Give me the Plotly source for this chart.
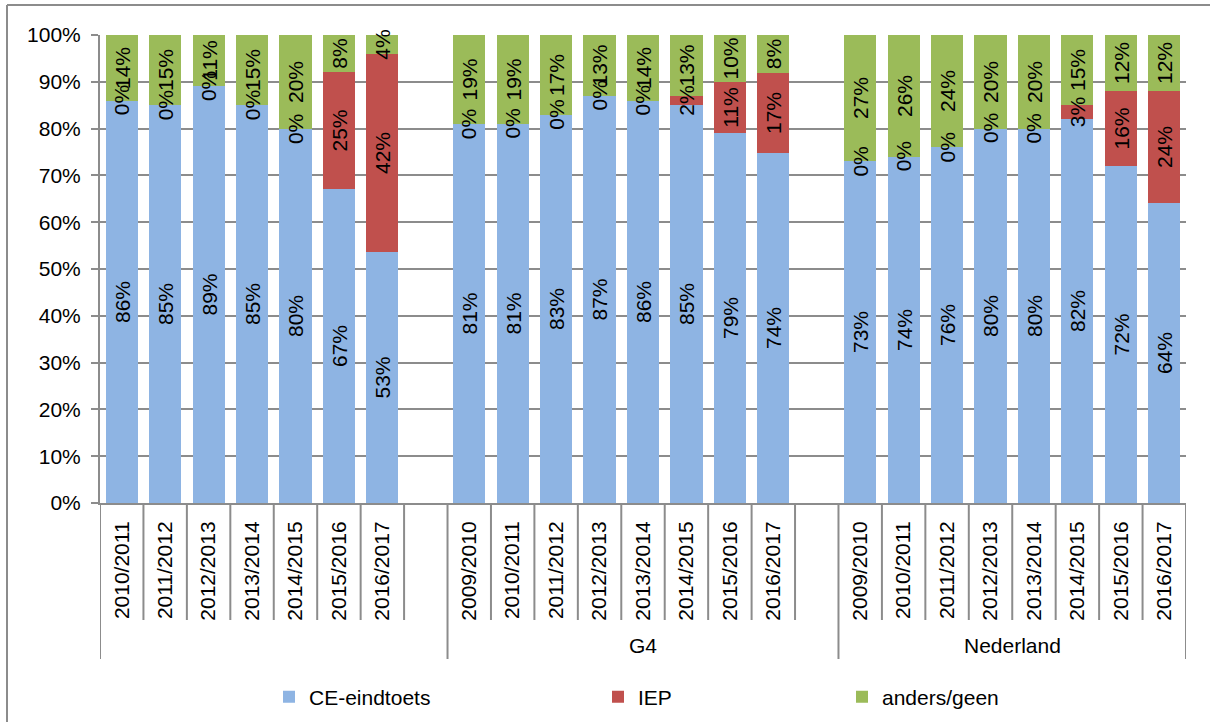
import plotly.graph_objects as go

# ---------------- data ----------------
groups = ["", "G4", "Nederland"]
years_g1 = ["2010/2011", "2011/2012", "2012/2013", "2013/2014", "2014/2015", "2015/2016", "2016/2017"]
years_g4 = ["2009/2010", "2010/2011", "2011/2012", "2012/2013", "2013/2014", "2014/2015", "2015/2016", "2016/2017"]
years_nl = ["2009/2010", "2010/2011", "2011/2012", "2012/2013", "2013/2014", "2014/2015", "2015/2016", "2016/2017"]

ce_g1 = [86, 85, 89, 85, 80, 67, 53]
iep_g1 = [0, 0, 0, 0, 0, 25, 42]
and_g1 = [14, 15, 11, 15, 20, 8, 4]

ce_g4 = [81, 81, 83, 87, 86, 85, 79, 74]
iep_g4 = [0, 0, 0, 0, 0, 2, 11, 17]
and_g4 = [19, 19, 17, 13, 14, 13, 10, 8]

ce_nl = [73, 74, 76, 80, 80, 82, 72, 64]
iep_nl = [0, 0, 0, 0, 0, 3, 16, 24]
and_nl = [27, 26, 24, 20, 20, 15, 12, 12]

series_names = ["CE-eindtoets", "IEP", "anders/geen"]
colors = ["#8EB4E3", "#C0504D", "#9BBB59"]

# ---------------- layout helpers ----------------
FONT = "Liberation Sans, Arial, sans-serif"
FS = 21
GRID = "#8C8C8C"
L, R, T, B = 100, 1186, 35, 503
W, H = 1210, 722


def px_x(p):
    return (p - L) / (R - L)


def px_y(p):
    return (B - p) / (B - T)


year_groups = [years_g1, years_g4, years_nl]
ce_all = ce_g1 + ce_g4 + ce_nl
iep_all = iep_g1 + iep_g4 + iep_nl
and_all = and_g1 + and_g4 + and_nl

# slot positions: each group followed by an empty slot (except last)
xpos, ticktext, group_spans = [], [], []
slot = 0
for gi, yrs in enumerate(year_groups):
    start = slot
    for y in yrs:
        xpos.append(slot)
        ticktext.append(y)
        slot += 1
    end_years = slot
    if gi < len(year_groups) - 1:
        slot += 1  # empty gap slot belongs to this group
    group_spans.append((start, end_years, slot))
nslots = slot

legend_ids = ["legend2", "legend3", "legend4"]
fig = go.Figure()
# coloured bars
for name, vals, col, lg in zip(series_names, [ce_all, iep_all, and_all], colors, legend_ids):
    fig.add_trace(go.Bar(
        x=xpos, y=vals, name=name, marker=dict(color=col, line=dict(width=0)),
        width=0.74, hoverinfo="skip", legend=lg,
    ))
# transparent overlay bars (separate subplot) that carry the value labels on top
for name, vals in zip(series_names, [ce_all, iep_all, and_all]):
    fig.add_trace(go.Bar(
        x=xpos, y=vals, name=name, xaxis="x2", showlegend=False,
        marker=dict(color="rgba(0,0,0,0)", line=dict(width=0)),
        width=0.74,
        text=[f"{v}%" if v else "" for v in vals],
        textposition="inside", insidetextanchor="middle", textangle=-90,
        constraintext="none", cliponaxis=False,
        textfont=dict(family=FONT, size=FS, color="black"),
        insidetextfont=dict(family=FONT, size=FS, color="black"),
        hoverinfo="skip",
    ))

annotations = []
# zero-value IEP labels at the CE/anders boundary
for x, c, i, a in zip(xpos, ce_all, iep_all, and_all):
    if i == 0:
        tot = c + i + a
        annotations.append(dict(x=x, y=c / tot * 100, xref="x", yref="y", text="0%",
                                textangle=-90, showarrow=False,
                                font=dict(family=FONT, size=FS, color="black")))

# group labels
for g, (s, e, full) in zip(groups, group_spans):
    end = full if full > e else e
    annotations.append(dict(x=(s + end) / 2 - 0.5, y=px_y(645), xref="x", yref="paper",
                            text=g, showarrow=False, yanchor="middle",
                            font=dict(family=FONT, size=FS, color="black")))

shapes = []
# inner ticks at year boundaries, outer dividers at group boundaries
for (s, e, full) in group_spans:
    for k in range(s + 1, e + 1):
        shapes.append(dict(type="line", xref="x", yref="paper", x0=k - 0.5, x1=k - 0.5,
                           y0=0, y1=px_y(620), line=dict(color=GRID, width=2)))
    shapes.append(dict(type="line", xref="x", yref="paper", x0=s - 0.5, x1=s - 0.5,
                       y0=0, y1=px_y(659), line=dict(color=GRID, width=2)))
shapes.append(dict(type="line", xref="x", yref="paper", x0=nslots - 0.5, x1=nslots - 0.5,
                   y0=0, y1=px_y(659), line=dict(color=GRID, width=2)))
# outer chart frame (top and left edges visible)
shapes.append(dict(type="line", xref="paper", yref="paper",
                   x0=px_x(7), x1=px_x(1212), y0=px_y(5), y1=px_y(5),
                   line=dict(color=GRID, width=2)))
shapes.append(dict(type="line", xref="paper", yref="paper",
                   x0=px_x(7), x1=px_x(7), y0=px_y(5), y1=px_y(724),
                   line=dict(color=GRID, width=2)))

legend_common = dict(orientation="h", yanchor="middle", y=px_y(697), xanchor="left",
                     font=dict(family=FONT, size=FS, color="black"),
                     bgcolor="rgba(0,0,0,0)", borderwidth=0)

fig.update_layout(
    width=W, height=H,
    margin=dict(l=L, r=W - R, t=T, b=H - B, pad=0, autoexpand=False),
    paper_bgcolor="white", plot_bgcolor="white",
    barmode="stack", barnorm="percent", bargap=0,
    font=dict(family=FONT, size=FS, color="black"),
    showlegend=True,
    xaxis=dict(range=[-0.5, nslots - 0.5], tickmode="array", tickvals=xpos, ticktext=ticktext,
               tickangle=-90, ticks="", showgrid=False, zeroline=False, automargin=False,
               showline=True, linecolor=GRID, linewidth=2, ticklabelstandoff=8,
               tickfont=dict(family=FONT, size=FS, color="black")),
    xaxis2=dict(range=[-0.5, nslots - 0.5], overlaying="x", visible=False,
                showgrid=False, zeroline=False),
    yaxis=dict(range=[0, 100.0001], tickmode="array", tickvals=list(range(0, 101, 10)),
               ticktext=[f"{v}%" for v in range(0, 101, 10)], automargin=False,
               showgrid=True, gridcolor=GRID, gridwidth=2, zeroline=False,
               showline=True, linecolor=GRID, linewidth=2,
               ticks="outside", ticklen=7, tickcolor=GRID, tickwidth=2,
               ticklabelstandoff=6,
               tickfont=dict(family=FONT, size=FS, color="black")),
    legend2=dict(x=px_x(269), **legend_common),
    legend3=dict(x=px_x(598), **legend_common),
    legend4=dict(x=px_x(842), **legend_common),
    annotations=annotations,
    shapes=shapes,
)

fig.write_html("out.html", config={"displayModeBar": False},
               post_script="document.body.style.margin='0px';")
